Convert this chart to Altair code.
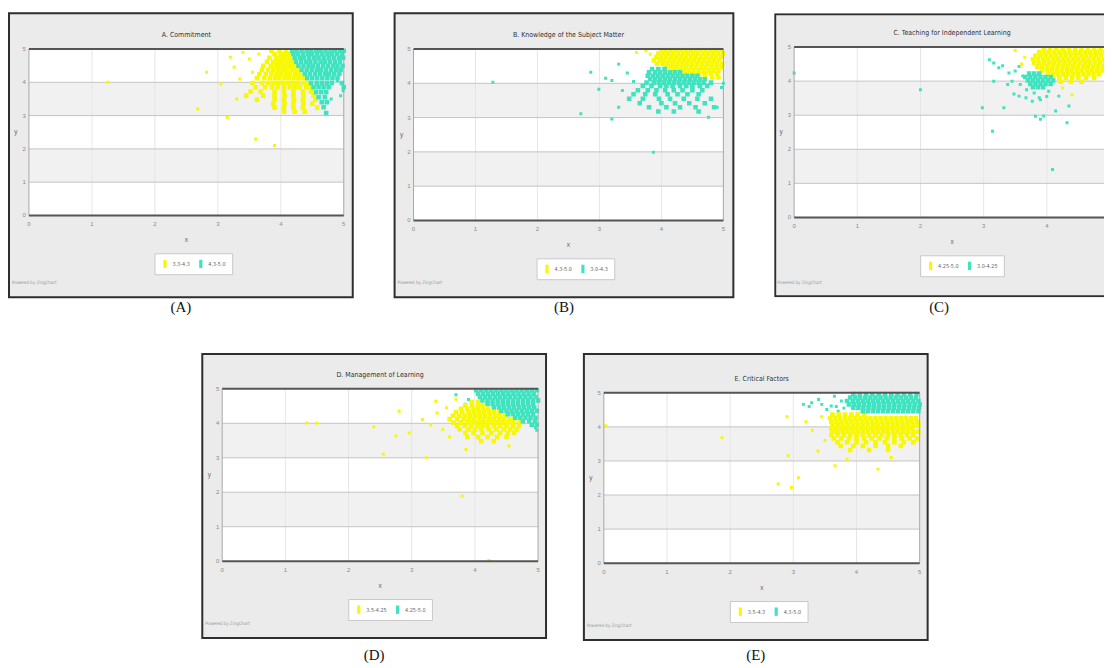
import altair as alt
import pandas as pd

# ---------------- data ----------------
YELLOW = "#f8f800"
CYAN = "#3fe3c0"
TICKS = [0, 1, 2, 3, 4, 5]
GRID_X = [1, 2, 3, 4]
GRID_Y = [1, 2, 3, 4]
GRAY_BANDS_LO = [1, 3]
GRAY_BANDS_HI = [2, 4]
LO, HI = 0, 5
FOOTER = "Powered by ZingChart"

TITLES = ["A. Commitment", "B. Knowledge of the Subject Matter",
          "C. Teaching for Independent Learning", "D. Management of Learning",
          "E. Critical Factors"]
CAPTIONS = ["(A)", "(B)", "(C)", "(D)", "(E)"]
LEGENDS = [["3.3-4.3", "4.3-5.0"], ["4.3-5.0", "3.0-4.3"], ["4.25-5.0", "3.0-4.25"],
           ["3.5-4.25", "4.25-5.0"], ["3.5-4.3", "4.3-5.0"]]

# rows: (y, [x, x, ...])
A_YELLOW_ROWS = [
    (4.95, [3.85, 3.98, 4.08]),
    (4.85, [3.9, 4.0, 4.07, 4.13]),
    (4.74, [3.82, 3.93, 4.0, 4.07, 4.14]),
    (4.62, [3.78, 3.88, 3.95, 4.02, 4.09, 4.16]),
    (4.5, [3.72, 3.84, 3.92, 3.99, 4.06, 4.13, 4.2]),
    (4.38, [3.7, 3.8, 3.88, 3.96, 4.03, 4.1, 4.18, 4.25]),
    (4.25, [3.66, 3.76, 3.85, 3.93, 4.0, 4.08, 4.15, 4.23, 4.3]),
    (4.12, [3.62, 3.74, 3.83, 3.91, 3.98, 4.06, 4.13, 4.21, 4.28, 4.35]),
    (3.98, [3.55, 3.7, 3.8, 3.88, 3.96, 4.04, 4.12, 4.2, 4.27, 4.36, 4.42]),
    (3.85, [3.6, 3.75, 3.86, 3.95, 4.05, 4.14, 4.22, 4.3, 4.4, 4.47]),
    (3.72, [3.52, 3.68, 3.9, 4.05, 4.2, 4.35, 4.48]),
    (3.6, [3.45, 3.72, 3.9, 4.06, 4.2, 4.36, 4.52]),
    (3.48, [3.62, 3.9, 4.05, 4.21, 4.35, 4.55]),
    (3.36, [3.88, 4.06, 4.2, 4.36, 4.5]),
    (3.24, [3.9, 4.05, 4.2, 4.35, 4.58]),
    (3.12, [4.05, 4.22, 4.38]),
]
A_YELLOW_EXTRA = [(3.05, 3.95), (1.25, 4.0), (2.68, 3.2), (3.15, 2.95), (2.82, 4.3),
                  (3.26, 4.45), (3.5, 4.7), (3.65, 4.85), (3.35, 4.1), (3.6, 2.3),
                  (3.9, 2.1), (3.3, 3.5), (3.4, 4.9), (3.55, 4.3), (3.2, 4.75)]
A_CYAN_ROWS = [
    (4.95, [4.18, 4.25, 4.33, 4.41, 4.48, 4.56, 4.63, 4.71, 4.79, 4.86, 4.94, 5.0]),
    (4.85, [4.2, 4.27, 4.35, 4.43, 4.5, 4.58, 4.66, 4.74, 4.81, 4.89, 4.97]),
    (4.74, [4.22, 4.3, 4.37, 4.45, 4.53, 4.6, 4.68, 4.76, 4.84, 4.92, 4.99]),
    (4.62, [4.24, 4.32, 4.4, 4.47, 4.55, 4.63, 4.7, 4.78, 4.86, 4.94]),
    (4.5, [4.28, 4.36, 4.44, 4.51, 4.59, 4.67, 4.75, 4.83, 4.9, 4.98]),
    (4.38, [4.33, 4.41, 4.49, 4.57, 4.64, 4.72, 4.8, 4.88, 4.95]),
    (4.25, [4.38, 4.46, 4.54, 4.62, 4.7, 4.77, 4.85, 4.93]),
    (4.12, [4.42, 4.5, 4.58, 4.66, 4.74, 4.82, 4.9]),
    (3.98, [4.48, 4.57, 4.65, 4.73, 4.81, 4.97]),
    (3.85, [4.52, 4.6, 4.68, 4.76, 5.0]),
    (3.7, [4.56, 4.64, 4.72]),
    (3.55, [4.6, 4.7]),
    (3.4, [4.65, 4.73]),
    (3.25, [4.68]),
    (3.08, [4.72]),
]
A_CYAN_EXTRA = [(4.99, 3.75), (4.95, 3.6), (4.8, 3.5), (4.9, 4.05)]

B_YELLOW_ROWS = [
    (4.97, [4.0, 4.08, 4.16, 4.24, 4.32, 4.4, 4.48, 4.56, 4.64, 4.72, 4.8, 4.88, 4.96]),
    (4.87, [3.95, 4.03, 4.11, 4.19, 4.27, 4.35, 4.43, 4.51, 4.59, 4.67, 4.75, 4.83, 4.91, 4.99]),
    (4.77, [3.92, 4.0, 4.08, 4.16, 4.24, 4.32, 4.4, 4.48, 4.56, 4.64, 4.72, 4.8, 4.88, 4.96]),
    (4.67, [3.88, 3.97, 4.05, 4.13, 4.21, 4.29, 4.37, 4.45, 4.53, 4.61, 4.69, 4.77, 4.85, 4.93]),
    (4.57, [3.93, 4.02, 4.1, 4.18, 4.26, 4.34, 4.42, 4.5, 4.58, 4.66, 4.74, 4.82, 4.9, 4.98]),
    (4.47, [4.08, 4.16, 4.24, 4.32, 4.4, 4.48, 4.56, 4.64, 4.72, 4.8, 4.88, 4.96]),
    (4.37, [4.2, 4.28, 4.36, 4.44, 4.52, 4.6, 4.68, 4.76, 4.84, 4.92]),
    (4.27, [4.4, 4.5, 4.6, 4.7, 4.8, 4.9]),
    (4.17, [4.7, 4.82, 4.92]),
]
B_YELLOW_EXTRA = [(3.75, 4.95), (3.82, 4.85), (3.6, 4.9)]
B_CYAN_ROWS = [
    (4.42, [3.85, 3.95, 4.05]),
    (4.32, [3.8, 3.9, 3.98, 4.06, 4.14, 4.22, 4.3]),
    (4.22, [3.78, 3.86, 3.94, 4.02, 4.1, 4.18, 4.26, 4.34, 4.42, 4.5, 4.58]),
    (4.12, [3.82, 3.9, 3.98, 4.06, 4.14, 4.22, 4.3, 4.38, 4.46, 4.54, 4.62, 4.7]),
    (4.02, [3.76, 3.88, 3.96, 4.04, 4.12, 4.2, 4.28, 4.36, 4.44, 4.52, 4.6, 4.68, 4.8]),
    (3.92, [3.7, 3.84, 3.98, 4.08, 4.18, 4.3, 4.4, 4.5, 4.62, 4.74]),
    (3.8, [3.62, 3.78, 3.92, 4.06, 4.2, 4.34, 4.5, 4.66]),
    (3.68, [3.55, 3.74, 3.9, 4.1, 4.26, 4.42, 4.6]),
    (3.55, [3.48, 3.7, 3.96, 4.14, 4.36, 4.58, 4.8]),
    (3.42, [3.65, 4.0, 4.22, 4.45, 4.7]),
    (3.3, [3.8, 4.08, 4.3, 4.55, 4.85]),
    (3.18, [3.95, 4.2, 4.6]),
]
B_CYAN_EXTRA = [(3.31, 4.56), (2.86, 4.32), (3.2, 4.08), (2.99, 3.83), (3.1, 4.15),
                (3.37, 3.79), (3.31, 3.3), (3.2, 2.96), (2.7, 3.11), (1.28, 4.03),
                (3.87, 1.99), (4.76, 3.01), (4.97, 3.88), (3.45, 4.3), (3.55, 4.05),
                (4.9, 3.3), (5.0, 4.0)]

C_YELLOW_ROWS = [
    (4.95, [3.95, 4.05, 4.15, 4.25, 4.35, 4.45, 4.55, 4.65, 4.75, 4.85, 4.95]),
    (4.85, [3.88, 3.96, 4.04, 4.12, 4.2, 4.28, 4.36, 4.44, 4.52, 4.6, 4.68, 4.76, 4.84, 4.92, 5.0]),
    (4.75, [3.82, 3.9, 3.98, 4.06, 4.14, 4.22, 4.3, 4.38, 4.46, 4.54, 4.62, 4.7, 4.78, 4.86, 4.94]),
    (4.64, [3.78, 3.86, 3.94, 4.02, 4.1, 4.18, 4.26, 4.34, 4.42, 4.5, 4.58, 4.66, 4.74, 4.82, 4.9, 4.98]),
    (4.53, [3.8, 3.88, 3.96, 4.04, 4.12, 4.2, 4.28, 4.36, 4.44, 4.52, 4.6, 4.68, 4.76, 4.84, 4.92]),
    (4.42, [3.85, 3.93, 4.01, 4.09, 4.17, 4.25, 4.33, 4.41, 4.49, 4.57, 4.65, 4.73, 4.81, 4.89, 4.97]),
    (4.31, [3.92, 4.0, 4.08, 4.16, 4.24, 4.32, 4.4, 4.48, 4.56, 4.64, 4.72, 4.8, 4.88, 4.96]),
    (4.2, [4.02, 4.1, 4.18, 4.26, 4.34, 4.42, 4.5, 4.58, 4.66, 4.74, 4.82]),
    (4.09, [4.1, 4.2, 4.3, 4.4, 4.5, 4.62, 4.75]),
    (3.98, [4.22, 4.38, 4.55]),
]
C_YELLOW_EXTRA = [(3.5, 4.9), (3.65, 4.7), (4.4, 3.6), (4.25, 3.8), (3.6, 4.5)]
C_CYAN_ROWS = [
    (4.22, [3.72, 3.8, 3.88]),
    (4.12, [3.66, 3.74, 3.82, 3.9, 3.98, 4.06]),
    (4.02, [3.7, 3.78, 3.86, 3.94, 4.02, 4.1]),
    (3.92, [3.74, 3.82, 3.9, 3.98, 4.06]),
    (3.82, [3.78, 3.86, 3.94]),
]
C_CYAN_EXTRA = [(3.09, 4.63), (3.16, 4.53), (3.24, 4.39), (3.16, 4.0), (3.4, 4.24),
                (3.56, 4.43), (3.45, 4.0), (3.56, 3.56), (3.67, 3.51), (3.77, 3.41),
                (2.98, 3.22), (3.32, 3.22), (3.82, 2.97), (3.9, 2.88), (3.95, 2.98),
                (4.14, 3.12), (4.32, 2.78), (4.35, 3.27), (3.14, 2.53), (4.09, 1.41),
                (0.0, 4.24), (2.0, 3.75), (3.88, 3.51), (4.03, 3.7), (4.19, 3.56),
                (3.5, 4.3), (3.62, 4.15), (3.58, 3.9), (3.68, 3.75), (3.8, 3.65),
                (3.9, 3.45), (4.0, 3.55), (3.3, 4.45), (3.38, 3.9), (3.48, 3.62)]

D_YELLOW_ROWS = [
    (4.62, [3.95, 4.05]),
    (4.52, [3.85, 3.95, 4.05, 4.12]),
    (4.42, [3.78, 3.88, 3.97, 4.05, 4.13, 4.21]),
    (4.32, [3.7, 3.8, 3.9, 3.98, 4.06, 4.14, 4.22, 4.3, 4.38]),
    (4.22, [3.65, 3.75, 3.84, 3.92, 4.0, 4.08, 4.16, 4.24, 4.32, 4.4, 4.48]),
    (4.12, [3.6, 3.72, 3.82, 3.9, 3.98, 4.06, 4.14, 4.22, 4.3, 4.38, 4.46, 4.54, 4.62]),
    (4.02, [3.66, 3.78, 3.88, 3.96, 4.04, 4.12, 4.2, 4.28, 4.36, 4.44, 4.52, 4.6, 4.7]),
    (3.92, [3.72, 3.84, 3.94, 4.04, 4.12, 4.2, 4.3, 4.4, 4.5, 4.6, 4.7]),
    (3.82, [3.76, 3.9, 4.0, 4.1, 4.22, 4.34, 4.46, 4.56, 4.66]),
    (3.72, [3.85, 3.98, 4.12, 4.26, 4.4, 4.52, 4.62]),
    (3.6, [3.88, 4.05, 4.2, 4.35, 4.5]),
    (3.48, [4.1, 4.3]),
]
D_YELLOW_EXTRA = [(2.8, 4.35), (2.96, 3.72), (2.55, 3.1), (3.23, 3.0), (1.34, 4.01),
                  (3.8, 1.89), (4.22, 0.02), (2.75, 3.63), (3.38, 4.64), (3.17, 4.11),
                  (3.49, 3.82), (3.86, 3.24), (4.54, 3.34), (3.4, 4.3), (3.55, 4.45),
                  (3.3, 3.95), (3.6, 3.6), (3.7, 4.7), (2.4, 3.9), (1.5, 4.0)]
D_CYAN_ROWS = [
    (4.96, [4.02, 4.1, 4.18, 4.26, 4.34, 4.42, 4.5, 4.58, 4.66, 4.74, 4.82, 4.9, 4.98]),
    (4.86, [4.05, 4.13, 4.21, 4.29, 4.37, 4.45, 4.53, 4.61, 4.69, 4.77, 4.85, 4.93]),
    (4.76, [4.08, 4.16, 4.24, 4.32, 4.4, 4.48, 4.56, 4.64, 4.72, 4.8, 4.88, 4.96]),
    (4.66, [4.12, 4.2, 4.28, 4.36, 4.44, 4.52, 4.6, 4.68, 4.76, 4.84, 4.92, 5.0]),
    (4.56, [4.2, 4.28, 4.36, 4.44, 4.52, 4.6, 4.68, 4.76, 4.84, 4.92]),
    (4.46, [4.3, 4.38, 4.46, 4.54, 4.62, 4.7, 4.78, 4.86, 4.94]),
    (4.36, [4.42, 4.5, 4.58, 4.66, 4.74, 4.82, 4.9, 4.98]),
    (4.26, [4.52, 4.6, 4.68, 4.76, 4.84, 4.92]),
    (4.16, [4.64, 4.72, 4.8, 4.88, 4.96]),
    (4.06, [4.76, 4.86, 4.95]),
    (3.96, [4.9, 4.98]),
]
D_CYAN_EXTRA = [(3.7, 4.83), (3.9, 4.69), (3.85, 4.55), (4.96, 3.87), (4.98, 3.8)]

E_YELLOW_ROWS = [
    (4.36, [3.62, 3.72, 3.82, 3.92, 4.02, 4.12]),
    (4.26, [3.58, 3.66, 3.74, 3.82, 3.9, 3.98, 4.06, 4.14, 4.22, 4.3, 4.38, 4.46, 4.54, 4.62, 4.7, 4.78, 4.86, 4.94]),
    (4.16, [3.6, 3.68, 3.76, 3.84, 3.92, 4.0, 4.08, 4.16, 4.24, 4.32, 4.4, 4.48, 4.56, 4.64, 4.72, 4.8, 4.88, 4.96]),
    (4.06, [3.62, 3.7, 3.78, 3.86, 3.94, 4.02, 4.1, 4.18, 4.26, 4.34, 4.42, 4.5, 4.58, 4.66, 4.74, 4.82, 4.9, 4.98]),
    (3.96, [3.6, 3.68, 3.76, 3.84, 3.92, 4.0, 4.08, 4.16, 4.24, 4.32, 4.4, 4.48, 4.56, 4.64, 4.72, 4.8, 4.88]),
    (3.86, [3.62, 3.7, 3.78, 3.86, 3.94, 4.02, 4.1, 4.18, 4.26, 4.34, 4.42, 4.5, 4.58, 4.66, 4.74, 4.82, 4.9, 4.98]),
    (3.76, [3.6, 3.7, 3.8, 3.9, 4.0, 4.1, 4.2, 4.3, 4.4, 4.5, 4.6, 4.7, 4.8, 4.9]),
    (3.66, [3.64, 3.76, 3.88, 4.0, 4.12, 4.24, 4.36, 4.48, 4.6, 4.72, 4.84, 4.96]),
    (3.55, [3.7, 3.85, 4.0, 4.15, 4.3, 4.45, 4.6, 4.75, 4.9]),
    (3.44, [3.75, 3.95, 4.1, 4.3, 4.5, 4.7]),
    (3.32, [3.9, 4.2, 4.5]),
]
E_YELLOW_EXTRA = [(0.03, 4.03), (1.87, 3.68), (2.92, 3.15), (3.08, 2.51), (2.76, 2.32),
                  (2.97, 2.22), (3.66, 2.86), (4.34, 2.76), (3.39, 3.29), (3.2, 4.15),
                  (3.3, 3.9), (3.5, 3.6), (3.45, 4.3), (4.55, 3.1), (3.85, 3.05), (2.9, 4.3)]
E_CYAN_ROWS = [
    (4.96, [3.95, 4.05, 4.15, 4.25, 4.35, 4.45, 4.55, 4.65, 4.75, 4.85, 4.95]),
    (4.86, [3.9, 3.98, 4.06, 4.14, 4.22, 4.3, 4.38, 4.46, 4.54, 4.62, 4.7, 4.78, 4.86, 4.94]),
    (4.76, [3.85, 3.94, 4.02, 4.1, 4.18, 4.26, 4.34, 4.42, 4.5, 4.58, 4.66, 4.74, 4.82, 4.9, 4.98]),
    (4.66, [3.88, 3.96, 4.04, 4.12, 4.2, 4.28, 4.36, 4.44, 4.52, 4.6, 4.68, 4.76, 4.84, 4.92, 5.0]),
    (4.56, [3.95, 4.03, 4.11, 4.19, 4.27, 4.35, 4.43, 4.51, 4.59, 4.67, 4.75, 4.83, 4.91, 4.99]),
    (4.46, [4.1, 4.18, 4.26, 4.34, 4.42, 4.5, 4.58, 4.66, 4.74, 4.82, 4.9, 4.98]),
]
E_CYAN_EXTRA = [(3.16, 4.66), (3.29, 4.71), (3.45, 4.66), (3.53, 4.51), (3.6, 4.61),
                (3.76, 4.76), (3.71, 4.46), (3.68, 4.6), (3.25, 4.6), (3.4, 4.8),
                (3.8, 4.55), (3.65, 4.9)]

SERIES = [
    (A_YELLOW_ROWS, A_YELLOW_EXTRA, A_CYAN_ROWS, A_CYAN_EXTRA),
    (B_YELLOW_ROWS, B_YELLOW_EXTRA, B_CYAN_ROWS, B_CYAN_EXTRA),
    (C_YELLOW_ROWS, C_YELLOW_EXTRA, C_CYAN_ROWS, C_CYAN_EXTRA),
    (D_YELLOW_ROWS, D_YELLOW_EXTRA, D_CYAN_ROWS, D_CYAN_EXTRA),
    (E_YELLOW_ROWS, E_YELLOW_EXTRA, E_CYAN_ROWS, E_CYAN_EXTRA),
]

# ---------------- layout (pixels, per panel) ----------------
LAYOUT = [
    dict(W=345, H=285, xr=(20, 336), yr=(203, 36), cut=False, cap_off=3),
    dict(W=340, H=285, xr=(19, 330), yr=(208, 36), cut=False, cap_off=3),
    dict(W=331, H=285, xr=(20, 337), yr=(205, 34), cut=True, cap_off=3),
    dict(W=345, H=285, xr=(20, 337), yr=(208, 35), cut=False, cap_off=10),
    dict(W=345, H=287, xr=(20, 337), yr=(210, 39), cut=False, cap_off=8),
]
ROW2_INDENT = 157

FRAME_BG = "#ebebeb"
FRAME_STROKE = "#2e2e2e"
NARROW = "'Liberation Sans Narrow', 'DejaVu Sans Condensed', 'Roboto Condensed', Roboto, sans-serif"


def flatten(rows):
    return [(x, y) for y, xs in rows for x in xs]


def panel(i):
    L = LAYOUT[i]
    W, H = L["W"], L["H"]
    x0, x1 = L["xr"]
    yb, yt = L["yr"]
    xmid = (x0 + x1) / 2
    ymid = (yb + yt) / 2
    ys_rows, ys_extra, cy_rows, cy_extra = SERIES[i]
    lab = LEGENDS[i]

    xsc = alt.Scale(domain=[LO, HI], range=[x0, x1], nice=False, zero=False)
    ysc = alt.Scale(domain=[LO, HI], range=[yb, yt], nice=False, zero=False)

    def X(f):
        return alt.X(f, type="quantitative", scale=xsc, axis=None)

    def Y(f):
        return alt.Y(f, type="quantitative", scale=ysc, axis=None)

    color = alt.Color("s:N", scale=alt.Scale(domain=lab, range=[YELLOW, CYAN]),
                      legend=alt.Legend(
                          title=None, orient="none", legendX=xmid - 32, legendY=yb + 38,
                          direction="horizontal", fillColor="white", strokeColor="#c8c8c8",
                          padding=6, labelFontSize=5.5, labelColor="#666", labelFont=NARROW,
                          symbolType="M-0.38,-1L0.38,-1L0.38,1L-0.38,1Z", symbolSize=70,
                          symbolStrokeWidth=0.6, columnPadding=6, labelOffset=3,
                          symbolOpacity=1))

    layers = []

    plot_df = pd.DataFrame({"a": [LO], "b": [HI]})
    layers.append(alt.Chart(plot_df).mark_rect(fill="white", clip=True).encode(
        x=X("a"), x2="b", y=Y("a"), y2="b"))

    band_df = pd.DataFrame({"lo": GRAY_BANDS_LO, "hi": GRAY_BANDS_HI, "a": LO, "b": HI})
    layers.append(alt.Chart(band_df).mark_rect(fill="#f1f1f1", clip=True).encode(
        x=X("a"), x2="b", y=Y("lo"), y2="hi"))

    gx_df = pd.DataFrame({"v": GRID_X, "a": LO, "b": HI})
    layers.append(alt.Chart(gx_df).mark_rule(color="#e6e6e6", strokeWidth=1, clip=True).encode(
        x=X("v"), y=Y("a"), y2="b"))
    gy_df = pd.DataFrame({"v": GRID_Y, "a": LO, "b": HI})
    layers.append(alt.Chart(gy_df).mark_rule(color="#c4c4c4", strokeWidth=1, clip=True).encode(
        y=Y("v"), x=X("a"), x2="b"))

    # sparse outlying points (small) and dense cluster points (larger, overlapping)
    sparse = [(x, y, lab[0]) for x, y in ys_extra] + [(x, y, lab[1]) for x, y in cy_extra]
    sdf = pd.DataFrame(sparse, columns=["x", "y", "s"])
    layers.append(alt.Chart(sdf).mark_square(size=9, opacity=1, clip=True).encode(
        x=X("x"), y=Y("y"), color=color))

    dense = [(x, y, lab[0]) for x, y in flatten(ys_rows)] + \
            [(x, y, lab[1]) for x, y in flatten(cy_rows)]
    ddf = pd.DataFrame(dense, columns=["x", "y", "s"])
    ddf["o"] = range(len(ddf))
    layers.append(alt.Chart(ddf).mark_square(size=21, opacity=1, clip=True).encode(
        x=X("x"), y=Y("y"), color=color, order=alt.Order("o:Q")))

    vb_df = pd.DataFrame({"v": [LO, HI], "a": LO, "b": HI})
    layers.append(alt.Chart(vb_df).mark_rule(color="#a8a8a8", strokeWidth=1, clip=True).encode(
        x=X("v"), y=Y("a"), y2="b"))
    layers.append(alt.Chart(vb_df).mark_rule(color="#555555", strokeWidth=2, clip=True).encode(
        y=Y("v"), x=X("a"), x2="b"))

    t_df = pd.DataFrame({"v": TICKS})
    layers.append(alt.Chart(t_df).mark_text(fontSize=6, color="#8a8a8a", align="right",
                                            baseline="middle", clip=True).encode(
        y=Y("v"), x=alt.value(x0 - 3), text=alt.Text("v:Q", format="d")))
    xt = alt.Chart(t_df)
    if L["cut"]:
        xt = xt.transform_filter(alt.datum.v < HI)
    layers.append(xt.mark_text(fontSize=6, color="#8a8a8a", align="center",
                               baseline="middle", clip=True).encode(
        x=X("v"), y=alt.value(yb + 9), text=alt.Text("v:Q", format="d")))

    txt = pd.DataFrame({"title": [TITLES[i]], "xl": ["x"], "yl": ["y"], "foot": [FOOTER]})
    layers.append(alt.Chart(txt).mark_text(fontSize=7, font=NARROW, color="#333",
                                           align="center", baseline="middle", clip=True).encode(
        x=alt.value(xmid), y=alt.value(yt - 14), text="title:N"))
    layers.append(alt.Chart(txt).mark_text(fontSize=6.5, color="#666", align="center",
                                           baseline="middle", clip=True).encode(
        x=alt.value(xmid), y=alt.value(yb + 25), text="xl:N"))
    layers.append(alt.Chart(txt).mark_text(fontSize=6.5, color="#666", align="center",
                                           baseline="middle", clip=True).encode(
        x=alt.value(7), y=alt.value(ymid), text="yl:N"))
    layers.append(alt.Chart(txt).mark_text(fontSize=4.5, color="#9a9a9a", align="left",
                                           baseline="middle", font=NARROW, clip=True).encode(
        x=alt.value(3), y=alt.value(H - 14), text="foot:N"))

    if L["cut"]:
        layers.append(alt.Chart(plot_df).mark_rect(fill="transparent", stroke=FRAME_STROKE,
                                                   strokeWidth=2, clip=True).encode(
            x=alt.value(1), x2=alt.value(W + 30), y=alt.value(1), y2=alt.value(H - 1)))

    props = dict(width=W, height=H,
                 title=alt.TitleParams(CAPTIONS[i], orient="bottom", font="Liberation Serif",
                                       fontSize=15, fontWeight="normal", color="#111",
                                       offset=L["cap_off"]))
    if L["cut"]:
        props["view"] = alt.ViewBackground(fill=FRAME_BG, stroke="transparent", strokeWidth=0)
    return alt.layer(*layers).properties(**props)


panels = [panel(i) for i in range(5)]

# empty spacer that indents the second row
spacer = alt.Chart(pd.DataFrame({"a": [0]})).mark_point(opacity=0, size=4).encode(
    x=alt.value(ROW2_INDENT / 2), y=alt.value(10)).properties(
    width=ROW2_INDENT, height=20,
    view=alt.ViewBackground(fill="transparent", stroke="transparent", strokeWidth=0))

row1 = alt.hconcat(panels[0], panels[1], panels[2], spacing=40).resolve_scale(
    x="independent", y="independent", color="independent").resolve_legend(color="independent")
row2 = alt.hconcat(spacer, panels[3], panels[4], spacing=36).resolve_scale(
    x="independent", y="independent", color="independent").resolve_legend(color="independent")

chart = alt.vconcat(row1, row2, spacing=37).resolve_scale(
    x="independent", y="independent", color="independent").resolve_legend(
    color="independent").properties(
    padding={"left": 0, "top": 3, "right": 0, "bottom": 0}, background="white"
).configure_view(fill=FRAME_BG, stroke=FRAME_STROKE, strokeWidth=2)

chart.save("out.html", embed_options={"renderer": "svg", "actions": False})
